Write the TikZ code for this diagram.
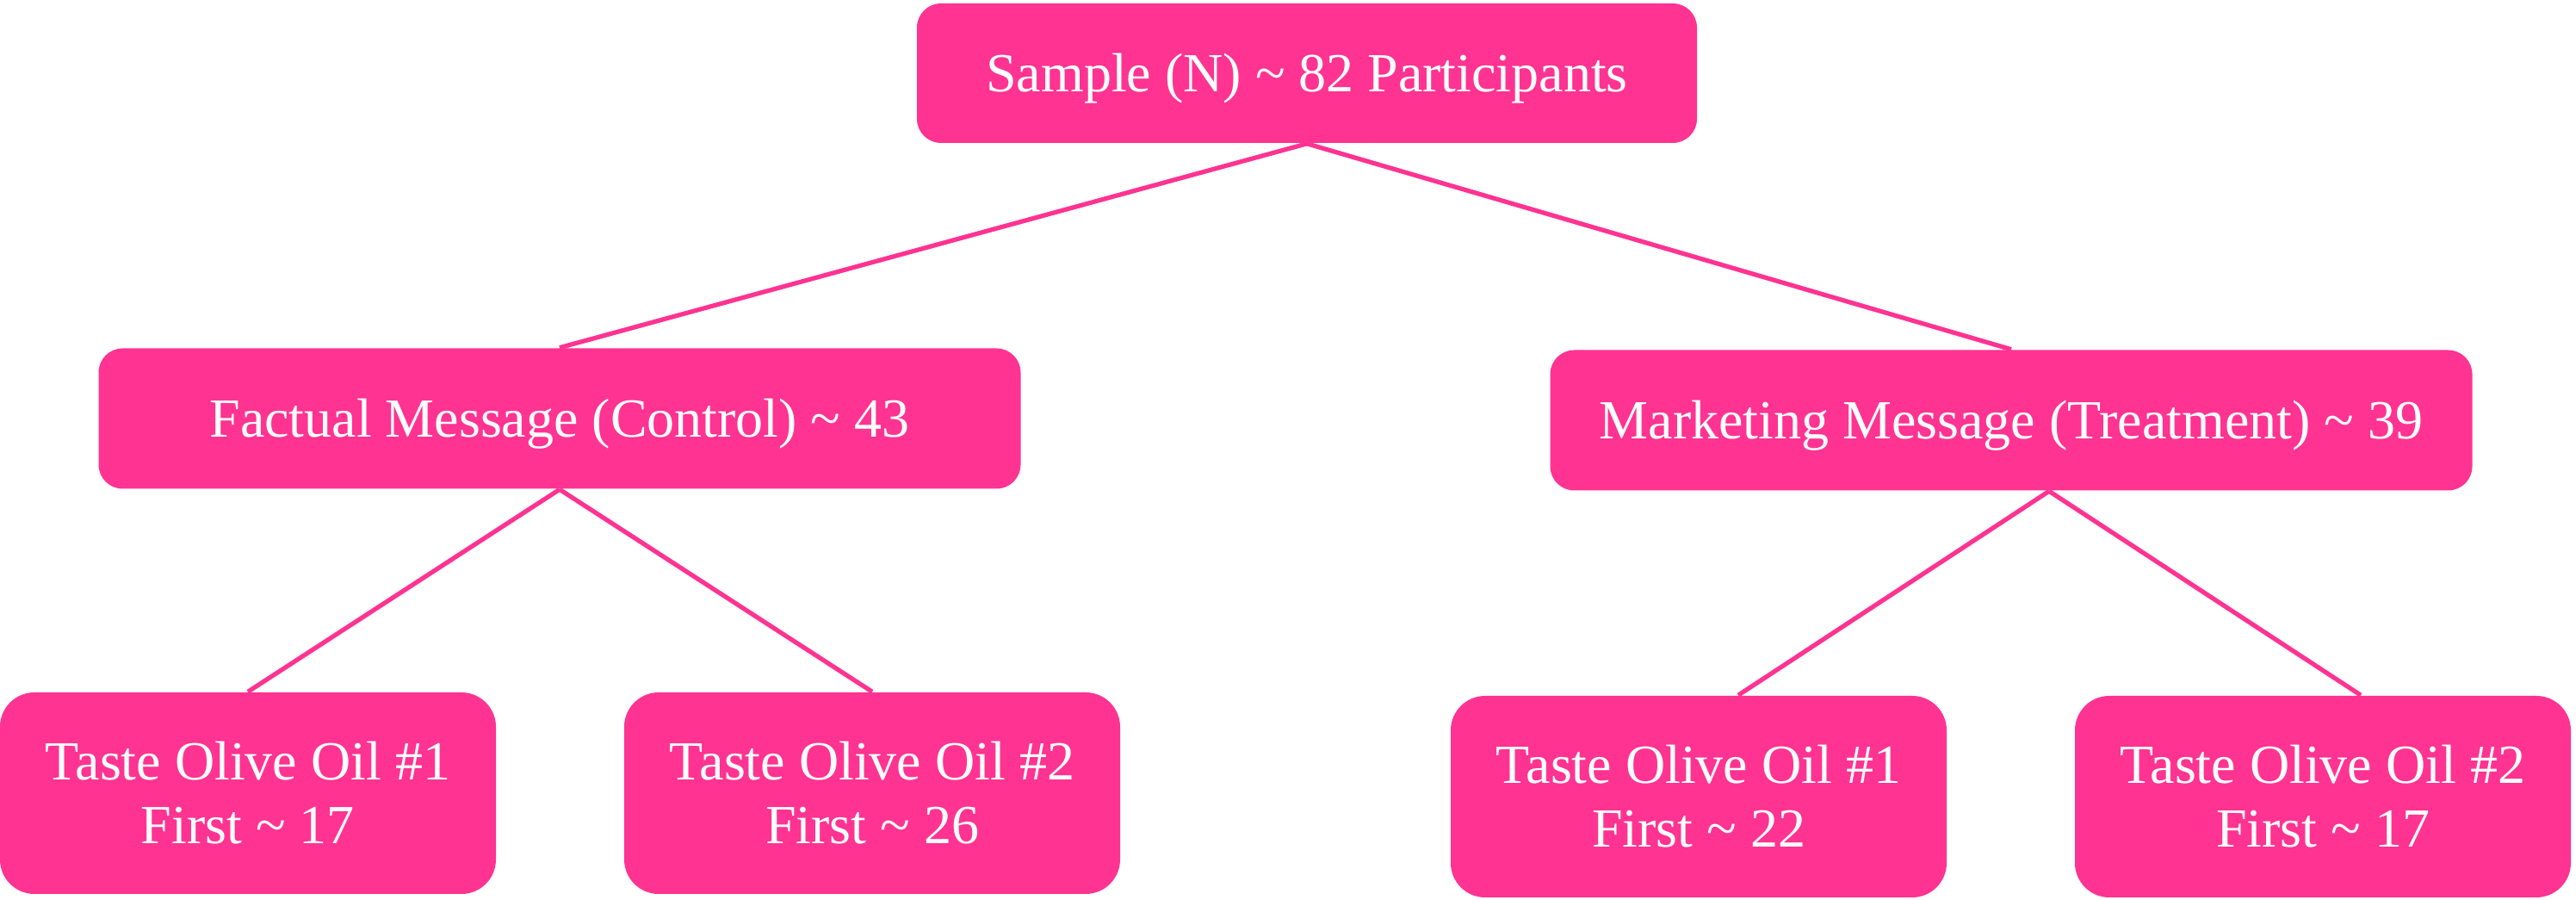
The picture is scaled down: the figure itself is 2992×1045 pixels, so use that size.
\documentclass[tikz,border=0pt]{standalone}
\usepackage{fontspec}
\setmainfont{Liberation Serif}
\usetikzlibrary{calc}
\definecolor{pinkfill}{RGB}{255,51,145}
\begin{document}
\begin{tikzpicture}[x=0.25pt,y=-0.25pt,
  box/.style={fill=pinkfill, text=white, inner sep=0pt, align=center,
    font=\fontsize{16pt}{18.5pt}\selectfont},
  oneline/.style={text height=14.2pt, text depth=3.5pt},
  midbox/.style={box, oneline, rounded corners=7pt, minimum width=267.75pt, minimum height=40.75pt},
  topbox/.style={box, oneline, rounded corners=7pt, minimum width=226.5pt, minimum height=40.5pt},
  leafbox/.style={box, rounded corners=10pt, minimum width=144pt, minimum height=58.5pt},
  link/.style={draw=pinkfill, line width=1.3pt}]
\useasboundingbox (0,0) rectangle (2992,1045);
\node[topbox] (top) at (1518,85) {Sample (N) \char"007E{} 82 Participants};
\node[midbox] (fact) at (650,486) {Factual Message (Control) \char"007E{} 43};
\node[midbox] (mark) at (2336,488) {Marketing Message (Treatment) \char"007E{} 39};
\node[leafbox] (l1) at (288,921) {Taste Olive Oil \#1\\First \char"007E{} 17};
\node[leafbox] (l2) at (1013,921) {Taste Olive Oil \#2\\First \char"007E{} 26};
\node[leafbox] (l3) at (1973,925) {Taste Olive Oil \#1\\First \char"007E{} 22};
\node[leafbox] (l4) at (2698,925) {Taste Olive Oil \#2\\First \char"007E{} 17};
\draw[link] (top.south) -- (fact.north);
\draw[link] (top.south) -- (mark.north);
\draw[link] (fact.south) -- (l1.north);
\draw[link] (fact.south) -- (l2.north);
\draw[link] ($(mark.south)+(44,0)$) -- ($(l3.north)+(46,0)$);
\draw[link] ($(mark.south)+(44,0)$) -- ($(l4.north)+(44,0)$);
\end{tikzpicture}
\end{document}
